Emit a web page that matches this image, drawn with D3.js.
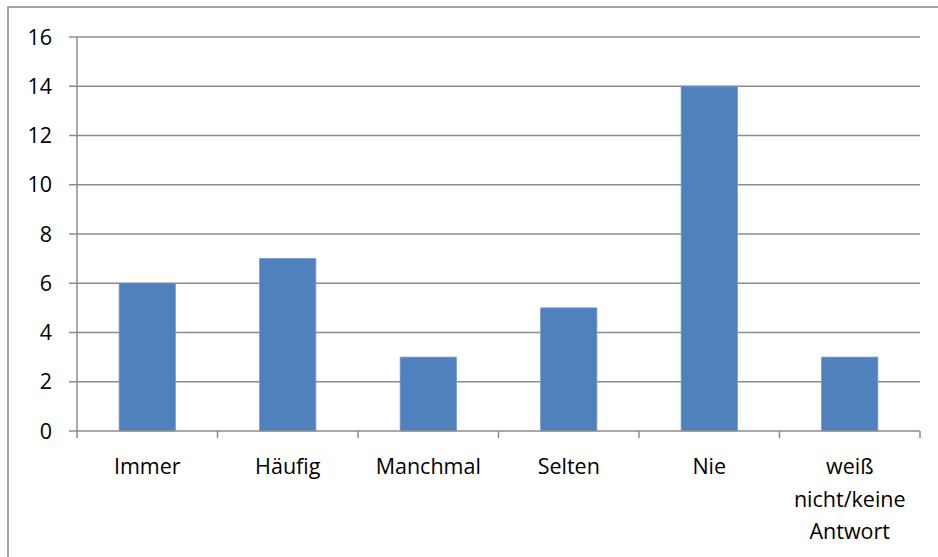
<!DOCTYPE html>
<html>
<head>
<meta charset="utf-8">
<script src="https://cdn.jsdelivr.net/npm/d3@7"></script>
<style>
  html, body { margin: 0; padding: 0; background: #fff; }
  svg { display: block; }
  text { font-family: "Open Sans", "Noto Sans", sans-serif; fill: #000; }
</style>
</head>
<body>
<script>
// Survey answers and their counts
const categories = ["Immer", "Häufig", "Manchmal", "Selten", "Nie", "weiß nicht/keine Antwort"];
const labelLines = [["Immer"], ["Häufig"], ["Manchmal"], ["Selten"], ["Nie"], ["weiß", "nicht/keine", "Antwort"]];
const counts = [6, 7, 3, 5, 14, 3];
const yTicks = [0, 2, 4, 6, 8, 10, 12, 14, 16];

const W = 938, H = 557;
const plotLeft = 77, plotRight = 920, plotTop = 37, plotBottom = 431;
const fontSize = 21.5;

const svg = d3.select("body").append("svg").attr("width", W).attr("height", H);

// chart frame
svg.append("rect")
  .attr("x", 8).attr("y", 7).attr("width", W + 20).attr("height", H + 20)
  .attr("fill", "none").attr("stroke", "#868686").attr("stroke-width", 1.5);

const x = d3.scaleBand().domain(categories).range([plotLeft, plotRight]).paddingInner(0).paddingOuter(0);
const y = d3.scaleLinear().domain([0, 16]).range([plotBottom, plotTop]);

const grid = "#8c8c8c";

// horizontal gridlines
svg.append("g").selectAll("line").data(yTicks.filter(d => d > 0)).join("line")
  .attr("x1", plotLeft).attr("x2", plotRight)
  .attr("y1", d => y(d)).attr("y2", d => y(d))
  .attr("stroke", grid).attr("stroke-width", 1.5);

// bars (gap width 150%)
const barW = x.bandwidth() / 2.5;
svg.append("g").selectAll("rect").data(categories).join("rect")
  .attr("x", d => x(d) + (x.bandwidth() - barW) / 2)
  .attr("y", (d, i) => y(counts[i]))
  .attr("width", barW)
  .attr("height", (d, i) => y(0) - y(counts[i]))
  .attr("fill", "#4f81bd")
  .attr("stroke", "#6f97c8").attr("stroke-width", 0.8);

// y axis
const yAxis = svg.append("g");
yAxis.append("line").attr("x1", plotLeft).attr("x2", plotLeft).attr("y1", plotTop).attr("y2", plotBottom)
  .attr("stroke", grid).attr("stroke-width", 1.5);
yAxis.selectAll("line.tick").data(yTicks).join("line").attr("class", "tick")
  .attr("x1", plotLeft - 8).attr("x2", plotLeft)
  .attr("y1", d => y(d)).attr("y2", d => y(d))
  .attr("stroke", grid).attr("stroke-width", 1.5);
yAxis.selectAll("text").data(yTicks).join("text")
  .attr("x", 52).attr("y", d => y(d)).attr("dy", "0.36em")
  .attr("text-anchor", "end").attr("font-size", fontSize)
  .text(d => d);

// x axis
const xAxis = svg.append("g");
xAxis.append("line").attr("x1", plotLeft).attr("x2", plotRight).attr("y1", plotBottom).attr("y2", plotBottom)
  .attr("stroke", grid).attr("stroke-width", 1.5);
const edges = categories.map(d => x(d)).concat([plotRight]);
xAxis.selectAll("line.tick").data(edges).join("line").attr("class", "tick")
  .attr("x1", d => d).attr("x2", d => d)
  .attr("y1", plotBottom).attr("y2", plotBottom + 7)
  .attr("stroke", grid).attr("stroke-width", 1.5);
const lbl = xAxis.selectAll("text").data(categories).join("text")
  .attr("text-anchor", "middle").attr("font-size", fontSize);
lbl.each(function(d, i) {
  const t = d3.select(this);
  labelLines[i].forEach((line, j) => {
    t.append("tspan")
      .attr("x", x(d) + x.bandwidth() / 2)
      .attr("y", 474 + j * 32.5)
      .text(line);
  });
});
</script>
</body>
</html>
